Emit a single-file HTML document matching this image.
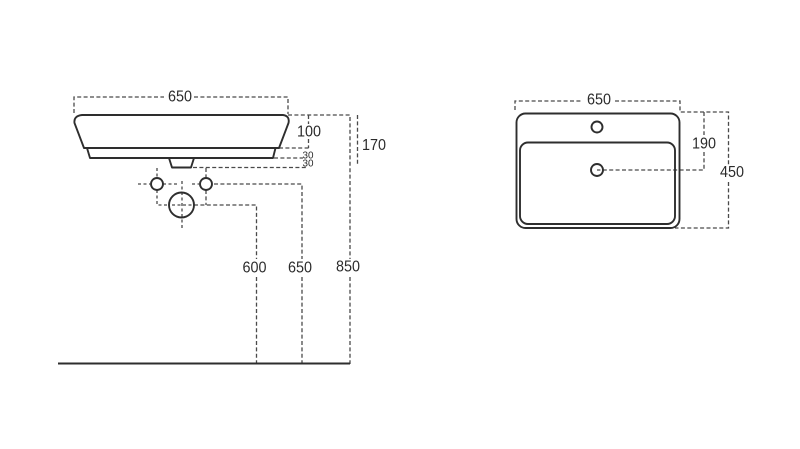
<!DOCTYPE html>
<html>
<head>
<meta charset="utf-8">
<style>
html,body{margin:0;padding:0;background:#fff;width:800px;height:449px;overflow:hidden}
svg{display:block}
text{font-family:"Liberation Sans",sans-serif;fill:#2b2b2b;text-anchor:middle}
.l{font-size:15.500px}
.d{fill:none;stroke:#4a4a4a;stroke-width:1.300;stroke-dasharray:4 2.400}
.c{fill:none;stroke:#4a4a4a;stroke-width:1.300;stroke-dasharray:3 2.500}
.s{fill:none;stroke:#2e2e2e;stroke-width:1.900;stroke-linejoin:round}
</style>
</head>
<body>
<svg width="800" height="449" viewBox="0 0 800 449" xmlns="http://www.w3.org/2000/svg">
<!-- left view dims -->
<path class="d" d="M74 113V97H164M194 97H288V114"/>
<path class="d" d="M288 115H350V259M350 277V364"/>
<path class="d" d="M357.500 115V166"/>
<path class="d" d="M308.500 115V124M308.500 139V148M279 148H309M274 158H303M193 167.500H306"/>
<path class="d" d="M206 168V178M206 190V205M214 184H302V259M302 277V363"/>
<path class="d" d="M194 205H256.500V259M256.500 277V363"/>
<path class="c" d="M157 168V178M157 190V205H169"/>
<path class="c" d="M138 184H150M163 184H177M192 184H199"/>
<path class="c" d="M182 181V228M172 205H192"/>
<!-- basin side -->
<path class="s" d="M82 115H283Q290 116 288.500 123L279 148H84L74.500 123Q73.500 116 82 115Z"/>
<path class="s" d="M87 148L90 158H273L275.500 148"/>
<path class="s" d="M169 158L172 167.500H191L194 158"/>
<circle class="s" cx="157" cy="184" r="6"/>
<circle class="s" cx="206" cy="184" r="6"/>
<circle class="s" cx="181.500" cy="205" r="12.500"/>
<path d="M58 363.500H350" fill="none" stroke="#2e2e2e" stroke-width="2"/>
<!-- left labels -->
<text class="l" x="180" y="101.500" textLength="24" lengthAdjust="spacingAndGlyphs">650</text>
<text class="l" x="309" y="136.500" textLength="24" lengthAdjust="spacingAndGlyphs">100</text>
<text class="l" x="374" y="150" textLength="24" lengthAdjust="spacingAndGlyphs">170</text>
<text x="308" y="158.500" font-size="10.500" textLength="11" lengthAdjust="spacingAndGlyphs">30</text>
<text x="308" y="166.500" font-size="10.500" textLength="11" lengthAdjust="spacingAndGlyphs">30</text>
<text class="l" x="254.500" y="272.500" textLength="24" lengthAdjust="spacingAndGlyphs">600</text>
<text class="l" x="300" y="272.500" textLength="24" lengthAdjust="spacingAndGlyphs">650</text>
<text class="l" x="348" y="271.500" textLength="24" lengthAdjust="spacingAndGlyphs">850</text>
<!-- right view dims -->
<path class="d" d="M515 110V101H582M615 101H680V112H728.500V165M728.500 182V228H675"/>
<path class="d" d="M704 112V135M704 152V170H597"/>
<!-- basin top -->
<rect class="s" x="516.500" y="113.500" width="163" height="114.500" rx="9" ry="9"/>
<rect class="s" x="520" y="142.500" width="155" height="81.500" rx="8" ry="8"/>
<circle class="s" cx="597" cy="127" r="5.500"/>
<circle class="s" cx="597" cy="170" r="6"/>
<!-- right labels -->
<text class="l" x="599" y="104.500" textLength="24" lengthAdjust="spacingAndGlyphs">650</text>
<text class="l" x="704" y="148.500" textLength="24" lengthAdjust="spacingAndGlyphs">190</text>
<text class="l" x="732" y="177" textLength="24" lengthAdjust="spacingAndGlyphs">450</text>
</svg>
</body>
</html>
